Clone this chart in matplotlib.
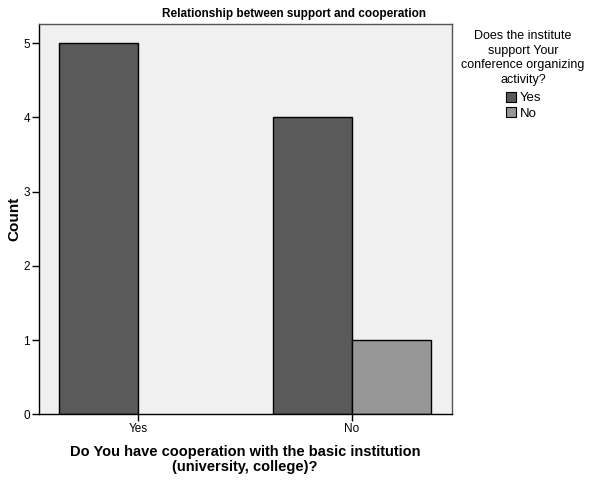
import matplotlib
matplotlib.use('Agg')
import matplotlib.pyplot as plt
from matplotlib.patches import Patch

# data
categories = ['Yes', 'No']
support_yes = [5, 4]
support_no = [0, 1]
legend_labels = ['Yes', 'No']
y_ticks = [0, 1, 2, 3, 4, 5]

dark = '#5a5a5a'
light = '#969696'

plt.rcParams['font.family'] = ['Liberation Sans', 'DejaVu Sans']

W, H = 602, 483
fig = plt.figure(figsize=(W / 100, H / 100), dpi=100)
ax = fig.add_axes([39 / W, 1 - 414.3 / H, (452 - 39) / W, (414.3 - 24) / H])
ax.set_facecolor('#f0f0f0')

bw = 0.37
x = list(range(len(categories)))
for i in x:
    if support_yes[i] > 0:
        ax.bar(i - bw / 2, support_yes[i], bw, color=dark, edgecolor='black', linewidth=1, zorder=2)
    if support_no[i] > 0:
        ax.bar(i + bw / 2, support_no[i], bw, color=light, edgecolor='black', linewidth=1, zorder=2)

ax.set_xlim(-0.465, 1.47)
ax.set_ylim(0, 5.26)
ax.set_xticks(x)
ax.set_xticklabels(categories)
ax.set_yticks(y_ticks)
ax.tick_params(direction='out', length=5, width=1, labelsize=8.5, pad=1.5, colors='black')
for s in ['left', 'bottom']:
    ax.spines[s].set_color('black')
    ax.spines[s].set_linewidth(1)
for s in ['top', 'right']:
    ax.spines[s].set_color('#555555')
    ax.spines[s].set_linewidth(1)

fig.text(294 / W, 1 - 14.5 / H, 'Relationship between support and cooperation',
         ha='center', va='center', fontsize=8.5, fontweight='bold')
fig.text(14 / W, 1 - 219 / H, 'Count', rotation=90, ha='center', va='center',
         fontsize=11, fontweight='bold')
fig.text(245 / W, 1 - 459.5 / H, 'Do You have cooperation with the basic institution\n(university, college)?',
         ha='center', va='center', fontsize=10.5, fontweight='bold', linespacing=1.05)

fig.text(523 / W, 1 - 58 / H, 'Does the institute\nsupport Your\nconference organizing\nactivity?',
         ha='center', va='center', fontsize=9, linespacing=1.3)
handles = [Patch(facecolor=dark, edgecolor='black', linewidth=0.8),
           Patch(facecolor=light, edgecolor='black', linewidth=0.8)]
fig.legend(handles, legend_labels, loc='upper left', bbox_to_anchor=(506 / W, 1 - 92 / H),
           frameon=False, handlelength=0.75, handleheight=0.75, handletextpad=0.3,
           labelspacing=0.2, fontsize=9.5, borderpad=0, borderaxespad=0)

fig.savefig('out.png', dpi=100)
